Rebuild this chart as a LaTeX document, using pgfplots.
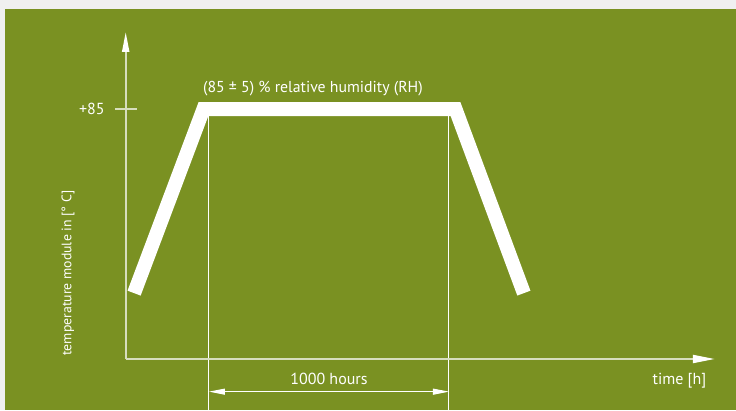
\documentclass[border=0pt]{standalone}
\usepackage{fontspec}
\setmainfont{PT Sans}
\usepackage{pgfplots}
\pgfplotsset{compat=1.18}
\usetikzlibrary{arrows.meta}
\definecolor{bg}{RGB}{122,145,34}
\definecolor{outer}{RGB}{240,240,240}
\definecolor{pale}{RGB}{215,222,189}
\begin{document}
\begin{tikzpicture}
\begin{axis}[
  x=0.24pt, y=2.94118pt,
  xmin=-523.75, xmax=2542.9, ymin=-17.34, ymax=122.06,
  hide axis, clip=false,
]
\fill[outer] (-523.75,-17.34) rectangle (2542.9,122.06);
\fill[bg] (-502.9,-17.34) rectangle (2542.9,119.0);
% thin guide lines
\draw[white, line width=1pt] (347,84) -- (347,-17.34);
\draw[white, line width=1pt] (1347,84) -- (1347,-17.34);
% axes
\draw[pale, line width=2pt, -{Triangle[length=22pt,width=8pt,color=white]}] (0,0) -- (2455,0);
\draw[pale, line width=2pt, -{Triangle[length=20pt,width=7pt,color=white]}] (0,0) -- (0,111.2);
\draw[pale, line width=2pt] (-44.6,85) -- (47,85);
% profile
\addplot[white, line width=14pt, line join=miter, line cap=butt] coordinates {(35,22.4) (324,85) (1374,85) (1659,22.4)};
% 1000 hours arrow
\draw[white, line width=1pt, {Triangle[length=16pt,width=6pt]}-{Triangle[length=16pt,width=6pt]}] (347,-11.1) -- (1347,-11.1);
% texts
\node[white, font=\fontsize{15.8}{18}\selectfont] at (780,91.8) {(85 ± 5) \% relative humidity (RH)};
\node[white, anchor=east, font=\fontsize{16}{18}\selectfont] at (-73,85) {+85};
\node[white, rotate=90, font=\fontsize{13.8}{16}\selectfont] at (-240,29.2) {temperature module in [° C]};
\node[white, font=\fontsize{16}{18}\selectfont] at (847,-6.8) {1000 hours};
\node[white, font=\fontsize{16}{18}\selectfont] at (2307,-7.3) {time [h]};
\end{axis}
\end{tikzpicture}
\end{document}
